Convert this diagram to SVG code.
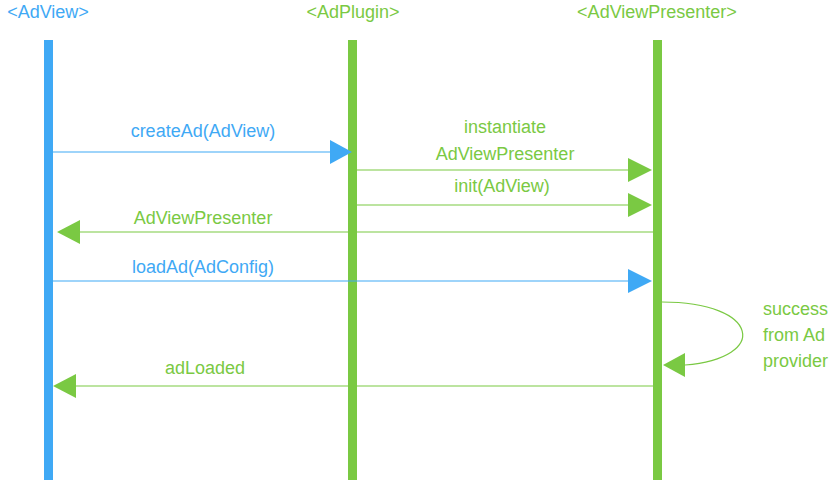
<svg xmlns="http://www.w3.org/2000/svg" width="840" height="480" viewBox="0 0 840 480">
<style>
text{font-family:"Liberation Sans",Arial,sans-serif;font-size:18px;text-anchor:middle}
.b{fill:#3fa9f5}.g{fill:#7ac943}
.lb{stroke:#3fa9f5;stroke-width:1.2;fill:none}.lg{stroke:#7ac943;stroke-width:1.2;fill:none}
</style>
<rect width="840" height="480" fill="#fff"/>
<g id="adview"><text class="b" x="48" y="18">&lt;AdView&gt;</text><rect class="b" x="44" y="40" width="9" height="440"/></g>
<g id="adplugin"><text class="g" x="353" y="18">&lt;AdPlugin&gt;</text><rect class="g" x="348" y="40" width="9" height="440"/></g>
<g id="adviewpresenter"><text class="g" x="657" y="18">&lt;AdViewPresenter&gt;</text><rect class="g" x="653" y="40" width="9" height="440"/></g>
<g id="connectors">
<line class="lb" x1="53" y1="152" x2="332" y2="152"/><polygon class="b" points="330,140 352,152 330,164"/>
<text class="b" x="203" y="137">createAd(AdView)</text>
<line class="lg" x1="357" y1="170" x2="630" y2="170"/><polygon class="g" points="628,158 652,170 628,182"/>
<text class="g" x="505" y="133">instantiate</text><text class="g" x="505" y="160">AdViewPresenter</text>
<line class="lg" x1="357" y1="205" x2="630" y2="205"/><polygon class="g" points="628,193 652,205 628,217"/>
<text class="g" x="502" y="192">init(AdView)</text>
<line class="lg" x1="653" y1="232" x2="78" y2="232"/><polygon class="g" points="80,220 57,232 80,244"/>
<text class="g" x="203" y="224">AdViewPresenter</text>
<line class="lb" x1="53" y1="281" x2="630" y2="281"/><polygon class="b" points="628,269 652,281 628,293"/>
<text class="b" x="203" y="273">loadAd(AdConfig)</text>
<path class="lg" d="M662,302 C760,302 770,358 685,365"/><polygon class="g" points="685,353 663,365 685,377"/>
<text class="g" x="763" y="315" style="text-anchor:start">success</text>
<text class="g" x="763" y="341" style="text-anchor:start">from Ad</text>
<text class="g" x="763" y="367" style="text-anchor:start">provider</text>
<line class="lg" x1="653" y1="386" x2="74" y2="386"/><polygon class="g" points="76,374 53,386 76,398"/>
<text class="g" x="205" y="374">adLoaded</text>
</g>
</svg>
